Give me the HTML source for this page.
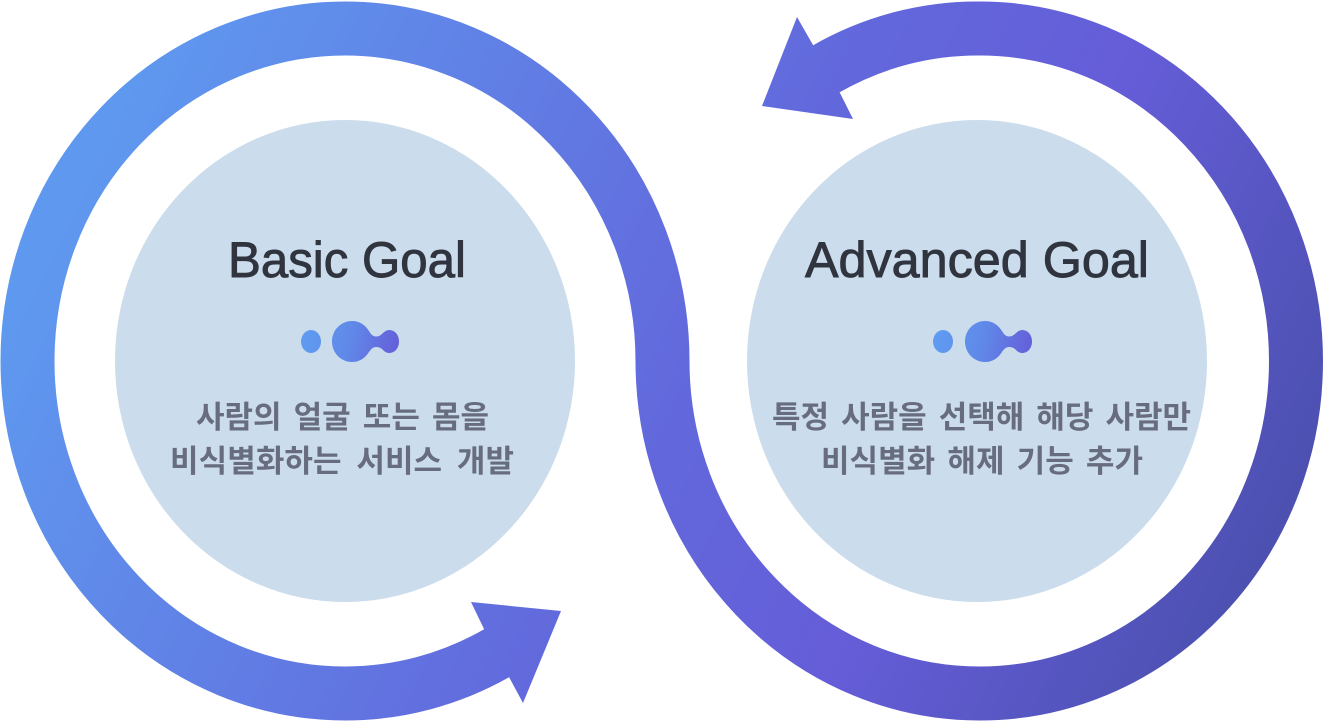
<!DOCTYPE html>
<html lang="ko">
<head>
<meta charset="utf-8">
<style>
html,body{margin:0;padding:0;background:#fff;width:1324px;height:722px;overflow:hidden}
svg{display:block}
.t{font-family:"Liberation Sans",sans-serif;fill:#30343f;stroke:#30343f;stroke-width:.9px;font-size:50px}
.k{font-family:"Liberation Sans","Noto Sans CJK KR",sans-serif;font-weight:700;fill:#676d7e;font-size:31px;word-spacing:3.5px}
</style>
</head>
<body>
<svg width="1324" height="722" viewBox="0 0 1324 722" xmlns="http://www.w3.org/2000/svg">
<defs>
<linearGradient id="g" gradientUnits="userSpaceOnUse" x1="120" y1="100" x2="1240" y2="640">
<stop offset="0" stop-color="#5f98ef"/>
<stop offset=".5" stop-color="#6269dc"/>
<stop offset=".72" stop-color="#655dd8"/>
<stop offset="1" stop-color="#4b50af"/>
</linearGradient>
<linearGradient id="b1" gradientUnits="userSpaceOnUse" x1="301" y1="330" x2="400" y2="352">
<stop offset="0" stop-color="#5f9df1"/><stop offset=".5" stop-color="#6088e8"/><stop offset="1" stop-color="#655dd8"/>
</linearGradient>
</defs>
<ellipse cx="345" cy="361" rx="230" ry="241" fill="#cbdcec"/>
<ellipse cx="977" cy="361" rx="230" ry="241" fill="#cbdcec"/>
<path d="M506 648 L497 653 A317.5 332.5 0 0 1 345 693.5 A317.5 332.5 0 0 1 27.5 361 A317.5 332.5 0 0 1 345 28.5 A317.5 332.5 0 0 1 662.5 361 A317 332.5 0 0 0 980 693.5 A316 332.5 0 0 0 1296 361 A316 332.5 0 0 0 980 28.5 A316 332.5 0 0 0 826 69 L817 74" fill="none" stroke="url(#g)" stroke-width="54"/>
<polygon points="471,602 561,611 523,703 509,677 497,653 484,629" fill="url(#g)"/>
<polygon points="762,106 797,17 813,45 826,69 840,93 853,119" fill="url(#g)"/>
<text class="t" x="228" y="277" textLength="238" lengthAdjust="spacingAndGlyphs">Basic Goal</text>
<text class="t" x="805" y="277" textLength="344" lengthAdjust="spacingAndGlyphs">Advanced Goal</text>
<g fill="url(#b1)">
<ellipse cx="311" cy="341.5" rx="10" ry="11.5"/>
<path d="M352 321 C360 321 365 325 369 331 C371 334.5 373 336.5 376 336.5 C379 336.5 381 335 383 333 C385 331 387 330 389 330 C395 330 399 335 399 341.5 C399 348 395 353 389 353 C387 353 385 352 383 350 C381 348 379 347 376 347 C373 347 371 349 369 352 C365 358 360 362 352 362 C341 362 332 353 332 341.5 C332 330 341 321 352 321Z"/>
</g>
<g fill="url(#b1)" transform="translate(633 0)">
<ellipse cx="310" cy="341.5" rx="10" ry="11.5"/>
<path d="M352 321 C360 321 365 325 369 331 C371 334.5 373 336.5 376 336.5 C379 336.5 381 335 383 333 C385 331 387 330 389 330 C395 330 399 335 399 341.5 C399 348 395 353 389 353 C387 353 385 352 383 350 C381 348 379 347 376 347 C373 347 371 349 369 352 C365 358 360 362 352 362 C341 362 332 353 332 341.5 C332 330 341 321 352 321Z"/>
</g>
<text class="k" x="196" y="428" textLength="293" lengthAdjust="spacing">사람의 얼굴 또는 몸을</text>
<text class="k" x="170" y="472" textLength="344" lengthAdjust="spacing" style="word-spacing:6px">비식별화하는 서비스 개발</text>
<text class="k" x="772" y="428" textLength="419" lengthAdjust="spacing">특정 사람을 선택해 해당 사람만</text>
<text class="k" x="821" y="472" textLength="322" lengthAdjust="spacing">비식별화 해제 기능 추가</text>
</svg>
</body>
</html>
